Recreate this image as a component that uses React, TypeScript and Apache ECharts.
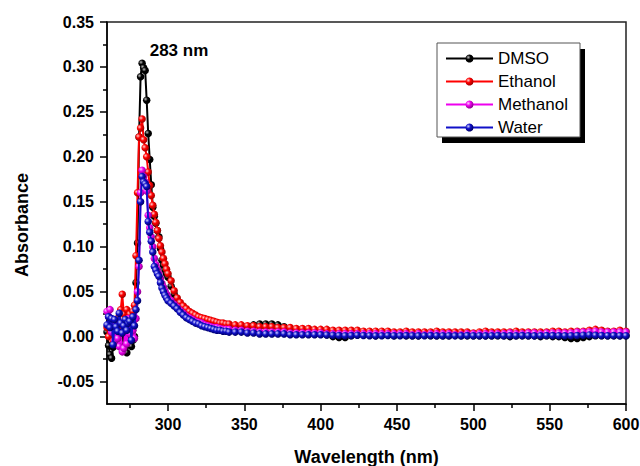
import React, { useEffect, useRef } from "react";
import * as echarts from "echarts";

const FONT = '"Liberation Sans", Arial, Helvetica, sans-serif';

const wavelengths = [
  260, 261, 262, 263, 264, 265, 266, 267, 268, 269,
  270, 271, 272, 273, 274, 275, 276, 277, 278, 279,
  280, 281, 282, 283, 284, 285, 286, 287, 288, 289,
  290, 291, 292, 293, 294, 295, 296, 297, 298, 299,
  300,
  302, 304, 306, 308, 310, 312, 314, 316, 318, 320,
  322, 324, 326, 328, 330, 332, 334, 336, 338, 340,
  344, 348, 352, 356, 360, 364, 368, 372, 376, 380,
  384, 388, 392, 396, 400, 404, 408, 412, 416, 420,
  424, 428, 432, 436, 440, 444, 448, 452, 456, 460,
  464, 468, 472, 476, 480, 484, 488, 492, 496, 500,
  504, 508, 512, 516, 520, 524, 528, 532, 536, 540,
  544, 548, 552, 556, 560, 564, 568, 572, 576, 580,
  584, 588, 592, 596, 600,
];

const dmso = [
  0.005, -0.010, -0.020, -0.024, -0.012, 0.002, -0.005, 0.008, -0.003, 0.004,
  -0.008, 0.003, -0.010, -0.018, -0.006, 0.004, -0.011, -0.004, 0.000, 0.060,
  0.104, 0.222, 0.289, 0.304, 0.299, 0.296, 0.263, 0.226, 0.197, 0.169,
  0.144, 0.134, 0.126, 0.118, 0.111, 0.098, 0.085, 0.079, 0.074, 0.070,
  0.066,
  0.056, 0.047, 0.040, 0.034, 0.029, 0.025, 0.022, 0.020, 0.018, 0.016,
  0.015, 0.014, 0.013, 0.012, 0.011, 0.010, 0.010, 0.009, 0.009, 0.009,
  0.009, 0.009, 0.011, 0.013, 0.014, 0.014, 0.014, 0.013, 0.011, 0.007,
  0.005, 0.004, 0.004, 0.003, 0.003, 0.002, 0.000, -0.001, -0.001, 0.001,
  0.002, 0.002, 0.002, 0.001, 0.002, 0.002, 0.001, 0.002, 0.001, 0.001,
  0.001, 0.002, 0.001, 0.001, 0.001, 0.001, 0.002, 0.001, 0.001, 0.001,
  0.001, 0.001, 0.001, 0.001, 0.001, 0.000, 0.001, 0.001, 0.001, 0.001,
  0.000, 0.001, 0.000, 0.000, -0.001, -0.002, -0.002, -0.001, 0.000, 0.001,
  0.001, 0.001, 0.001, 0.001, 0.001,
];

const ethanol = [
  0.010, 0.000, 0.015, 0.005, -0.005, 0.012, 0.003, 0.020, 0.008, 0.030,
  0.047, 0.025, 0.012, 0.030, 0.018, 0.025, 0.010, 0.028, 0.035, 0.090,
  0.160, 0.222, 0.232, 0.242, 0.219, 0.210, 0.200, 0.183, 0.168, 0.157,
  0.146, 0.136, 0.127, 0.118, 0.109, 0.101, 0.094, 0.087, 0.081, 0.075,
  0.070,
  0.062, 0.051, 0.043, 0.038, 0.034, 0.031, 0.028, 0.026, 0.024, 0.022,
  0.021, 0.020, 0.019, 0.018, 0.017, 0.016, 0.015, 0.015, 0.014, 0.014,
  0.013, 0.013, 0.012, 0.012, 0.011, 0.011, 0.011, 0.010, 0.010, 0.010,
  0.009, 0.009, 0.009, 0.008, 0.008, 0.008, 0.007, 0.007, 0.007, 0.007,
  0.007, 0.006, 0.006, 0.006, 0.006, 0.006, 0.005, 0.005, 0.006, 0.005,
  0.005, 0.005, 0.005, 0.006, 0.005, 0.005, 0.005, 0.005, 0.005, 0.004,
  0.005, 0.006, 0.005, 0.005, 0.005, 0.005, 0.006, 0.005, 0.005, 0.005,
  0.005, 0.005, 0.006, 0.006, 0.005, 0.006, 0.006, 0.006, 0.007, 0.008,
  0.007, 0.006, 0.006, 0.007, 0.006,
];

const methanol = [
  0.028, 0.022, 0.030, 0.005, 0.018, -0.005, 0.012, -0.002, -0.011, 0.004,
  -0.017, -0.013, 0.010, -0.008, 0.020, 0.003, 0.016, 0.007, -0.002, 0.020,
  0.050, 0.078, 0.160, 0.185, 0.178, 0.172, 0.162, 0.135, 0.121, 0.111,
  0.100, 0.087, 0.080, 0.075, 0.070, 0.065, 0.059, 0.055, 0.051, 0.047,
  0.044,
  0.040, 0.036, 0.033, 0.029, 0.026, 0.023, 0.021, 0.019, 0.017, 0.016,
  0.015, 0.013, 0.012, 0.011, 0.010, 0.010, 0.009, 0.008, 0.008, 0.008,
  0.007, 0.007, 0.006, 0.006, 0.005, 0.005, 0.005, 0.005, 0.005, 0.004,
  0.004, 0.004, 0.004, 0.004, 0.004, 0.003, 0.003, 0.003, 0.003, 0.003,
  0.003, 0.003, 0.003, 0.003, 0.003, 0.003, 0.003, 0.003, 0.003, 0.002,
  0.003, 0.002, 0.003, 0.003, 0.003, 0.003, 0.002, 0.002, 0.003, 0.003,
  0.003, 0.003, 0.003, 0.003, 0.003, 0.004, 0.003, 0.003, 0.004, 0.004,
  0.003, 0.004, 0.004, 0.004, 0.004, 0.004, 0.005, 0.005, 0.005, 0.006,
  0.005, 0.005, 0.005, 0.005, 0.005,
];

const water = [
  0.013, 0.022, 0.010, 0.020, -0.009, 0.019, 0.011, 0.006, 0.026, 0.015,
  0.004, 0.012, 0.019, 0.007, 0.015, 0.017, -0.004, 0.022, 0.012, 0.030,
  0.040, 0.085, 0.150, 0.178, 0.172, 0.170, 0.167, 0.128, 0.116, 0.106,
  0.094, 0.078, 0.074, 0.070, 0.067, 0.060, 0.054, 0.050, 0.046, 0.043,
  0.040,
  0.037, 0.034, 0.031, 0.027, 0.024, 0.021, 0.019, 0.017, 0.015, 0.014,
  0.012, 0.011, 0.010, 0.009, 0.008, 0.007, 0.007, 0.006, 0.006, 0.005,
  0.005, 0.005, 0.004, 0.004, 0.003, 0.003, 0.003, 0.003, 0.003, 0.002,
  0.002, 0.002, 0.002, 0.002, 0.002, 0.0018, 0.0015, 0.0012, 0.0010, 0.0012,
  0.0015, 0.0012, 0.0010, 0.0008, 0.0010, 0.0012, 0.0010, 0.0009, 0.0011, 0.0010,
  0.0008, 0.0010, 0.0012, 0.0009, 0.0010, 0.0010, 0.0008, 0.0010, 0.0011, 0.0009,
  0.0010, 0.0008, 0.0010, 0.0012, 0.0010, 0.0009, 0.0010, 0.0011, 0.0010, 0.0008,
  0.0010, 0.0012, 0.0011, 0.0010, 0.0009, 0.0010, 0.0012, 0.0015, 0.0018, 0.0014,
  0.0012, 0.0010, 0.0011, 0.0010, 0.0010,
];

const seriesNames = ["DMSO", "Ethanol", "Methanol", "Water"];
const seriesValues = [dmso, ethanol, methanol, water];
const seriesColors = ["#000000", "#ff0000", "#ee00ee", "#1010c8"];
const seriesDark = ["#000000", "#a00000", "#900090", "#00006a"];
const seriesLight = ["#bbbbbb", "#ffd0d0", "#ffd0ff", "#d0d0ff"];

const xLabelValues = [300, 350, 400, 450, 500, 550, 600];
const xMinorValues = [275, 325, 375, 425, 475, 525, 575];
const yLabelValues = [-0.05, 0, 0.05, 0.1, 0.15, 0.2, 0.25, 0.3, 0.35];
const yMinorValues = [-0.025, 0.025, 0.075, 0.125, 0.175, 0.225, 0.275, 0.325];

const peakLabel = "283 nm";
const yTitle = "Absorbance";
const xTitle = "Wavelength (nm)";

export default function App() {
  const ref = useRef<HTMLDivElement>(null);

  useEffect(() => {
    if (!ref.current) return;
    const chart = echarts.init(ref.current, null, { renderer: "svg" });

    const series = seriesNames.map((name, i) => ({
      name,
      type: "line",
      z: 2 + i,
      data: wavelengths.map((w, k) => [w, seriesValues[i][k]]),
      symbol: "circle",
      symbolSize: 7.5,
      showSymbol: true,
      showAllSymbol: true,
      lineStyle: { color: seriesColors[i], width: 2 },
      itemStyle: {
        color: new echarts.graphic.RadialGradient(0.35, 0.35, 0.65, [
          { offset: 0, color: seriesLight[i] },
          { offset: 0.45, color: seriesColors[i] },
          { offset: 1, color: seriesDark[i] },
        ]),
        borderWidth: 0,
      },
      emphasis: { disabled: true },
    }));

    const tickStyle = { color: "#000", width: 1.5 };
    const titleStyle = { fontSize: 18, fontWeight: "bold", color: "#000", fontFamily: FONT };

    chart.setOption({
      animation: false,
      backgroundColor: "#ffffff",
      grid: {
        left: 107,
        right: 14,
        top: 22,
        bottom: 62,
        containLabel: false,
        outerBoundsMode: "none",
        show: true,
        borderColor: "#222",
        borderWidth: 1.5,
        backgroundColor: "transparent",
      },
      xAxis: [
        {
          type: "value",
          min: 260,
          max: 600,
          axisLine: { show: true, onZero: false, lineStyle: tickStyle },
          splitLine: { show: false },
          axisTick: { show: true, customValues: xLabelValues, length: 7, lineStyle: tickStyle },
          axisLabel: {
            customValues: xLabelValues,
            margin: 12,
            fontSize: 16,
            fontWeight: "bold",
            color: "#000",
            fontFamily: FONT,
          },
          name: xTitle,
          nameLocation: "middle",
          nameGap: 44,
          nameTextStyle: titleStyle,
        },
        {
          type: "value",
          min: 260,
          max: 600,
          position: "bottom",
          axisLine: { show: false, onZero: false },
          splitLine: { show: false },
          axisLabel: { show: false },
          axisTick: { show: true, customValues: xMinorValues, length: 4, lineStyle: tickStyle },
        },
      ],
      yAxis: [
        {
          type: "value",
          min: -0.075,
          max: 0.35,
          axisLine: { show: true, onZero: false, lineStyle: tickStyle },
          splitLine: { show: false },
          axisTick: { show: true, customValues: yLabelValues, length: 7, lineStyle: tickStyle },
          axisLabel: {
            customValues: yLabelValues,
            margin: 13,
            fontSize: 16,
            fontWeight: "bold",
            color: "#000",
            fontFamily: FONT,
            formatter: (v: number) => v.toFixed(2),
          },
        },
        {
          type: "value",
          min: -0.075,
          max: 0.35,
          position: "left",
          axisLine: { show: false, onZero: false },
          splitLine: { show: false },
          axisLabel: { show: false },
          axisTick: { show: true, customValues: yMinorValues, length: 4, lineStyle: tickStyle },
        },
      ],
      legend: {
        data: seriesNames,
        orient: "vertical",
        left: 445,
        top: 50,
        padding: 0,
        itemWidth: 47,
        itemHeight: 10,
        itemGap: 6,
        z: 10,
        textStyle: { fontSize: 17, color: "#000", fontFamily: FONT },
      },
      graphic: [
        {
          type: "rect",
          z: 8,
          shape: { x: 442, y: 49, width: 143, height: 94 },
          style: { fill: "#000" },
        },
        {
          type: "rect",
          z: 9,
          shape: { x: 437, y: 43, width: 143, height: 94 },
          style: { fill: "#fff", stroke: "#555", lineWidth: 1 },
        },
        {
          type: "text",
          z: 10,
          x: 179,
          y: 50,
          style: {
            text: peakLabel,
            fontSize: 17,
            fontWeight: "bold",
            fill: "#000",
            fontFamily: FONT,
            textAlign: "center",
            textVerticalAlign: "middle",
          },
        },
        {
          type: "text",
          z: 10,
          x: 22,
          y: 225,
          rotation: Math.PI / 2,
          style: {
            text: yTitle,
            fontSize: 18,
            fontWeight: "bold",
            fill: "#000",
            fontFamily: FONT,
            textAlign: "center",
            textVerticalAlign: "middle",
          },
        },
      ],
      series,
    });

    return () => chart.dispose();
  }, []);

  return <div ref={ref} style={{ width: 640, height: 466, position: "absolute", left: 0, top: 0 }} />;
}
